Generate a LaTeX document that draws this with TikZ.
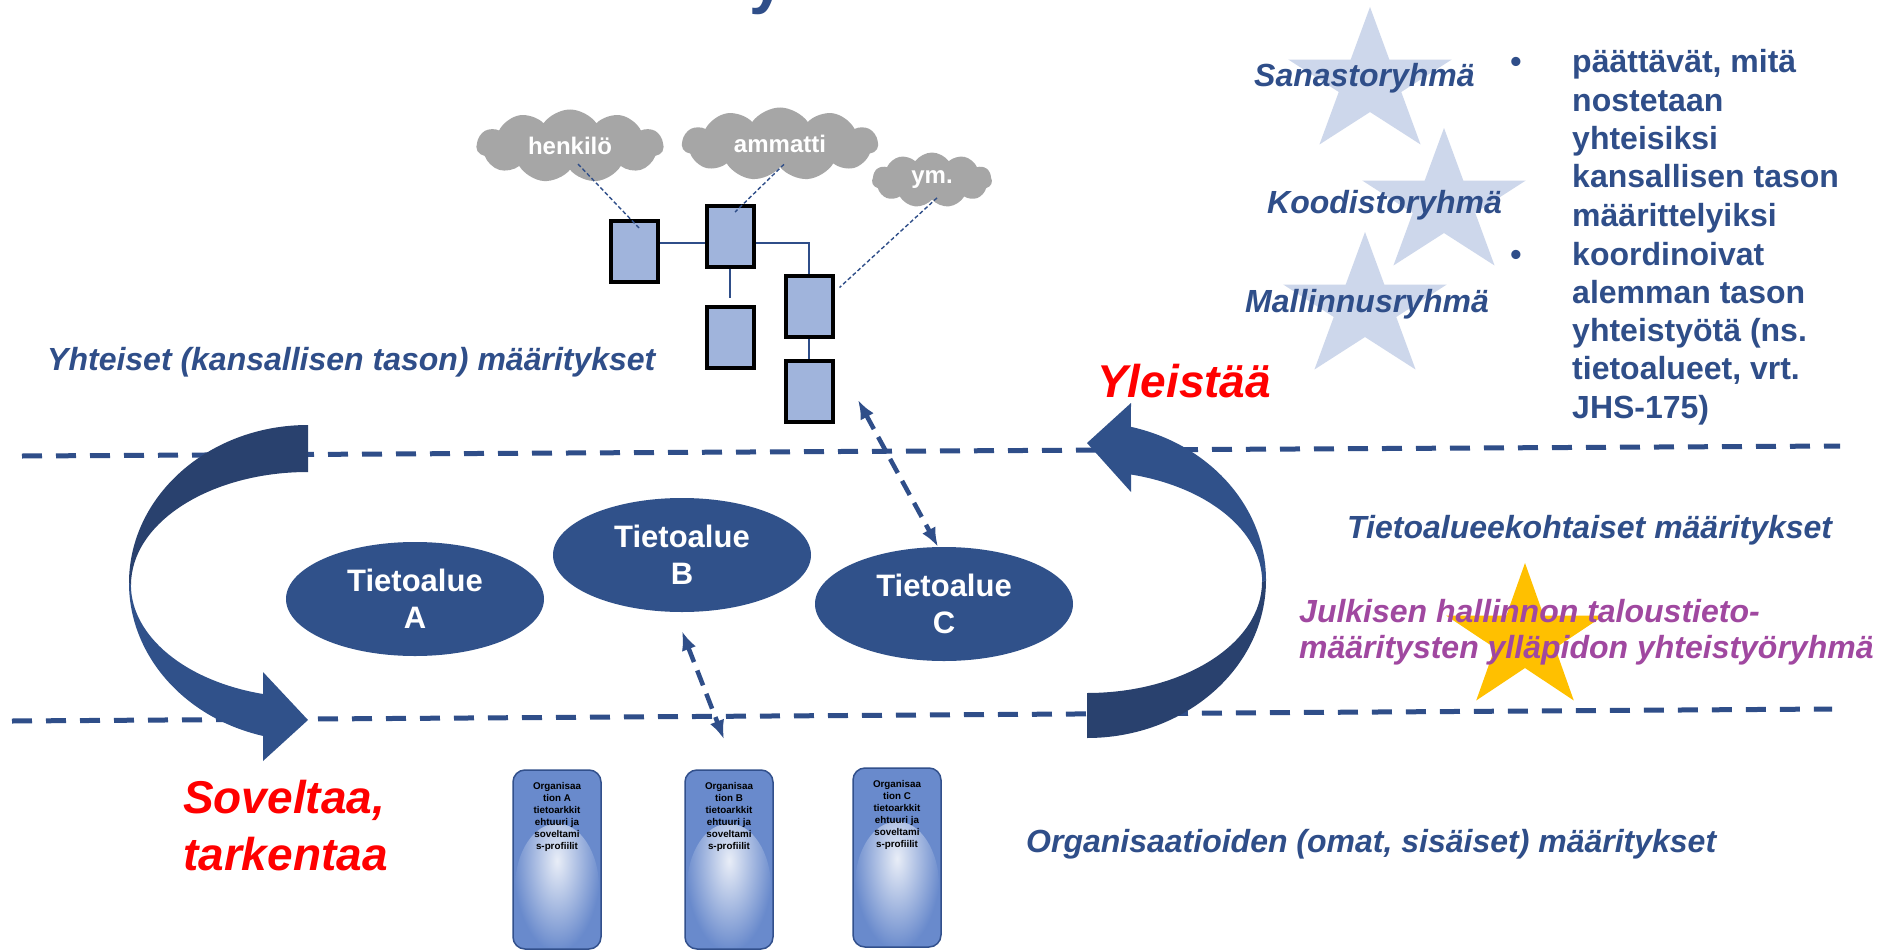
\documentclass[tikz,border=0pt]{standalone}
\usepackage{fontspec}
\setmainfont{Liberation Sans}
\usetikzlibrary{arrows.meta}
\usetikzlibrary{shapes.symbols, shapes.geometric}
\usetikzlibrary{positioning}

\definecolor{txtblue}{RGB}{47,78,137}
\definecolor{areablue}{RGB}{48,81,138}
\definecolor{darkblue}{RGB}{41,65,110}
\definecolor{entblue}{RGB}{160,180,220}
\definecolor{cloudgray}{RGB}{166,166,166}
\definecolor{starblue}{RGB}{205,215,235}
\definecolor{staryellow}{RGB}{255,192,0}
\definecolor{grppurple}{RGB}{160,72,160}
\definecolor{orgblue}{RGB}{105,138,204}
\definecolor{orgedge}{RGB}{50,80,140}

\newcommand{\fsz}[2]{\fontsize{#1}{#2}\selectfont}
% star: centre x, centre y, x radius, y radius, colour
\newcommand{\grpstar}[5]{%
  \fill[#5] ({#1},{#2-#4})
    \foreach \a/\s in {-54/0.382,-18/1,18/0.382,54/1,90/0.382,126/1,162/0.382,198/1,234/0.382}
      { -- ({#1+\s*#3*cos(\a)},{#2+\s*#4*sin(\a)}) } -- cycle;}

\begin{document}
\begin{tikzpicture}[x=1pt, y=-1pt,
    lbl/.style={font=\fsz{32}{36}\bfseries\itshape, text=txtblue, inner sep=0pt, anchor=base west},
    redlbl/.style={font=\fsz{46}{57}\bfseries\itshape, text=red, inner sep=0pt, anchor=base west},
    listtxt/.style={font=\fsz{32}{38}\bfseries, text=txtblue, inner sep=0pt, anchor=base west},
    divider/.style={txtblue, line width=5pt, dash pattern=on 20pt off 14pt},
    ent/.style={draw=black, line width=4pt, fill=entblue, minimum width=47, minimum height=61, inner sep=0pt},
    wire/.style={txtblue, line width=1.5pt},
    concept/.style={cloud, cloud puffs=11, cloud puff arc=110, cloud ignores aspect, fill=cloudgray,
        text=white, font=\fsz{24}{28}\bfseries, inner sep=0pt},
    hint/.style={txtblue, line width=1.4pt, dash pattern=on 4pt off 2.5pt},
    area/.style={ellipse, fill=areablue, text=white, font=\fsz{31}{37}\bfseries, align=center,
        minimum width=258, minimum height=114, inner sep=0pt},
    link/.style={txtblue, line width=4.5pt, dash pattern=on 16pt off 9pt,
        {Latex[length=19pt,width=15pt]}-{Latex[length=19pt,width=15pt]}},
    orgbox/.style={draw=orgedge, line width=1.5pt, rounded corners=12pt, fill=orgblue,
        minimum width=88, minimum height=179,
        path picture={\shade[inner color=white!85!orgblue, outer color=orgblue]
            ([yshift=-28pt]path picture bounding box.center) ellipse (42 and 64);}},
    orgtxt/.style={font=\fsz{9.8}{12}\bfseries, text=black, align=center, inner sep=0pt}]

    \fill[white] (0,0) rectangle (1890,950);
    \useasboundingbox (0,0) rectangle (1890,950);

    %% title (cut off)
    \node[font=\fsz{64}{64}\bfseries, text=txtblue, anchor=base west, inner sep=0pt] (ttl) at (749,2) {y};

    %% levels
    \draw[divider] (22,456) -- (1840,446);
    \draw[divider] (12,721) -- (1832,709);

    %% curved arrow, left
    \fill[darkblue] (308,425) arc[start angle=-90, end angle=-180, x radius=179, y radius=158]
        -- (131,585) arc[start angle=180, end angle=270, x radius=177, y radius=113] -- cycle;
    \fill[areablue] (129,583) arc[start angle=180, end angle=104.5, x radius=179, y radius=158]
        -- (263,761) -- (308,720) -- (263,672)
        -- (263,694) arc[start angle=104.7, end angle=180, x radius=177, y radius=113] -- cycle;

    %% curved arrow, right
    \fill[darkblue] (1087,738) arc[start angle=90, end angle=0, x radius=179, y radius=158]
        -- (1262,582) arc[start angle=0, end angle=90, x radius=175, y radius=111] -- cycle;
    \fill[areablue] (1266,580) arc[start angle=0, end angle=-75.8, x radius=179, y radius=158]
        -- (1131,403) -- (1087,443) -- (1131,492)
        -- (1131,474.5) arc[start angle=-75.5, end angle=0, x radius=175, y radius=111] -- cycle;

    %% stars
    \grpstar{1370}{83}{86}{76}{starblue}
    \grpstar{1444}{204}{86}{76}{starblue}
    \grpstar{1365}{308}{86}{76}{starblue}
    \grpstar{1525}{639}{83}{76}{staryellow}

    %% model
    \node[ent] (e1) at (634.5,251.5) {};
    \node[ent] (e2) at (730,236) {};
    \node[ent] (e3) at (730,337.5) {};
    \node[ent] (e4) at (809,306.5) {};
    \node[ent] (e5) at (809,391.5) {};
    \draw[wire] ([yshift=-7pt]e2.west) -- ([yshift=-7pt]e2.west -| e1.east);
    \draw[wire] ([yshift=-7pt]e2.east) -| (e4.north);
    \draw[wire] (e2.south) -- ([yshift=7pt]e3.north);
    \draw[wire] (e4.south) -- (e5.north);

    \node[concept, minimum width=187, minimum height=73] (henkilo) at (570,146) {henkilö};
    \node[concept, minimum width=196, minimum height=73] (ammatti) at (780,144) {ammatti};
    \node[concept, minimum width=120, minimum height=55] (ym) at (932,180) {ym.};
    \draw[hint] ([xshift=8pt, yshift=6pt]henkilo.south) -- ([xshift=4.5pt, yshift=23.5pt]e1.center);
    \draw[hint] ([xshift=4pt, yshift=3pt]ammatti.south) -- ([xshift=5pt, yshift=24pt]e2.center);
    \draw[hint] ([xshift=5pt, yshift=2pt]ym.south) -- ([xshift=5pt, yshift=19pt]e4.east);

    %% data areas
    \node[area] (tA) at (415,599) {Tietoalue\\A};
    \node[area] (tB) at (682,555) {Tietoalue\\B};
    \node[area] (tC) at (944,604) {Tietoalue\\C};

    %% organisations
    \node[orgbox] (orgA) at (557,859.5) {};
    \node[orgbox] (orgB) at (729,859.5) {};
    \node[orgbox] (orgC) at (897,857.5) {};
    \node[orgtxt, below=13pt of orgA.north] (otA) {Organisaa\\tion A\\tietoarkkit\\ehtuuri ja\\soveltami\\s-profiilit};
    \node[orgtxt, below=13pt of orgB.north] (otB) {Organisaa\\tion B\\tietoarkkit\\ehtuuri ja\\soveltami\\s-profiilit};
    \node[orgtxt, below=13pt of orgC.north] (otC) {Organisaa\\tion C\\tietoarkkit\\ehtuuri ja\\soveltami\\s-profiilit};

    \draw[link] ([xshift=23.5pt, yshift=-8.5pt]e5.east) -- ([xshift=-6pt]tC.north);
    \draw[link] ([yshift=-19pt]tB.south) -- ([xshift=-5pt, yshift=30pt]orgB.north);

    %% labels
    \node[lbl] (common) at (47,370) {Yhteiset (kansallisen tason) määritykset};
    \node[lbl] (domain) at (1347,538) {Tietoalueekohtaiset määritykset};
    \node[lbl] (orgdef) at (1026,852) {Organisaatioiden (omat, sisäiset) määritykset};
    \node[lbl] (sana) at (1254,87) {Sanastoryhmä};
    \node[lbl] (koodi) at (1267,213) {Koodistoryhmä};
    \node[lbl] (malli) at (1245,312) {Mallinnusryhmä};
    \node[lbl, text=grppurple, align=left] (jhs) at (1299,658) {Julkisen hallinnon taloustieto-\\määritysten ylläpidon yhteistyöryhmä};
    \node[redlbl] (yleis) at (1097,397) {Yleistää};
    \node[redlbl, align=left] (sovel) at (183,870) {Soveltaa,\\tarkentaa};

    %% tasks
    \node[listtxt, anchor=base] (bu1) at (1516,73) {•};
    \node[listtxt, anchor=base] (bu2) at (1516,265) {•};
    \foreach \txt [count=\i] in {{päättävät, mitä}, nostetaan, yhteisiksi, {kansallisen tason}, määrittelyiksi}
        \node[listtxt] (la\i) at (1572, {73+38.3*(\i-1)}) {\txt};
    \foreach \txt [count=\i] in {koordinoivat, {alemman tason}, {yhteistyötä (ns.}, {tietoalueet, vrt.}, {JHS-175)}}
        \node[listtxt] (lb\i) at (1572, {265+38.3*(\i-1)}) {\txt};
\end{tikzpicture}
\end{document}
